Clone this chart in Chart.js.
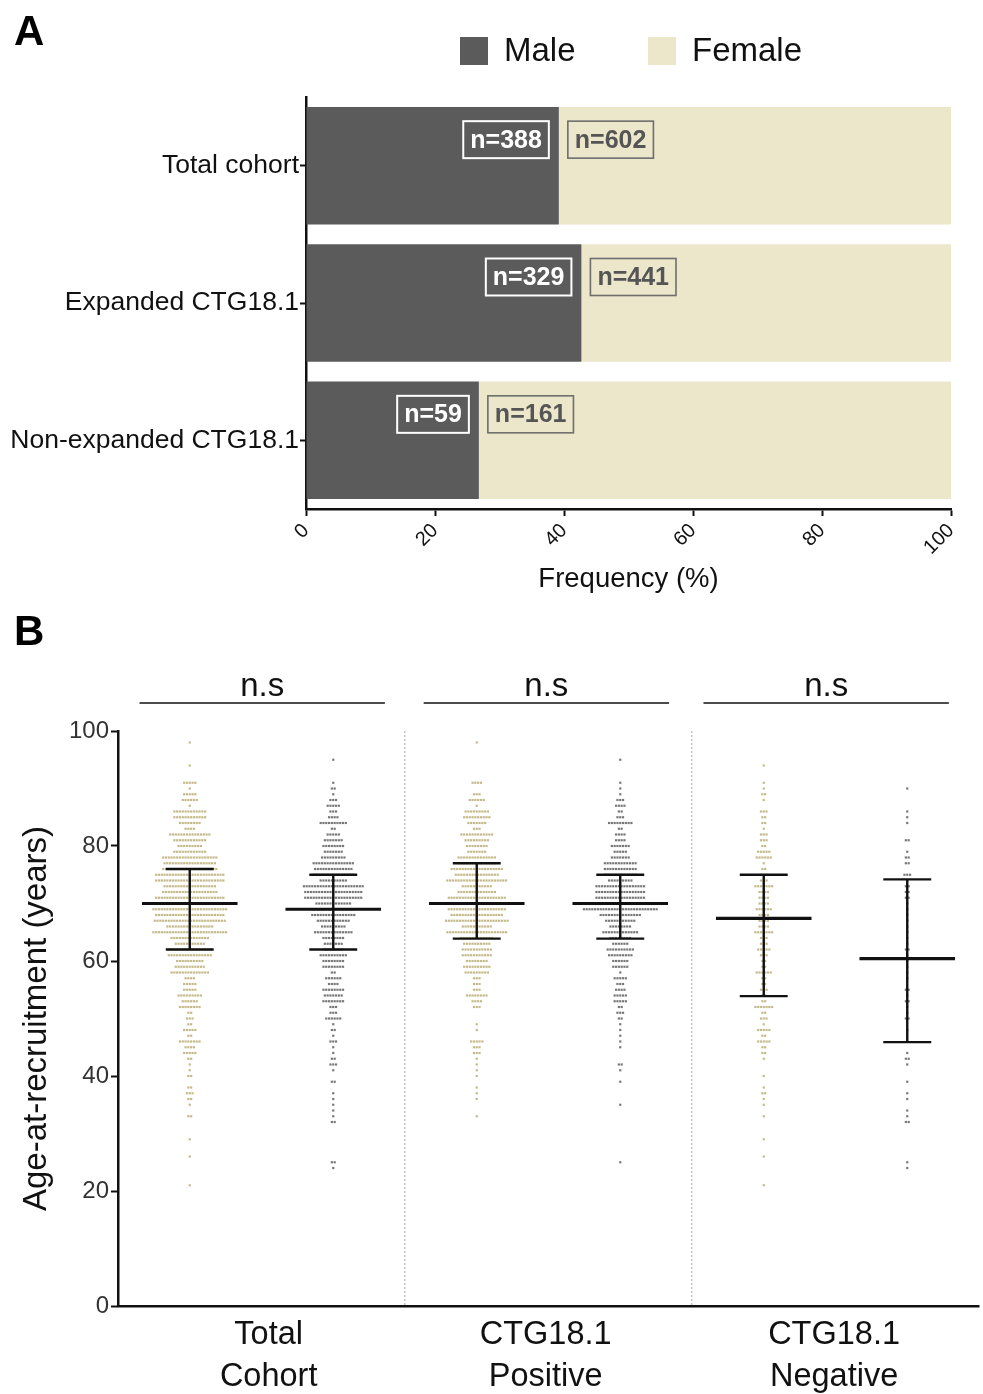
<!DOCTYPE html>
<html><head><meta charset="utf-8">
<script src="https://cdn.jsdelivr.net/npm/chart.js@4.4.1/dist/chart.umd.min.js"></script>
<style>
html,body{margin:0;padding:0;background:#fff;}
#wrapA{position:absolute;left:0;top:0;width:983px;height:600px;}
#wrapB{position:absolute;left:0;top:600px;width:983px;height:794px;}
canvas{display:block;}
</style></head><body>
<div id="wrapA"><canvas id="chartA" width="983" height="600"></canvas></div>
<div id="wrapB"><canvas id="chartB" width="983" height="794"></canvas></div>
<script>
// ---------------- DATA: panel A ----------------
const cohortLabels = ['Total cohort', 'Expanded CTG18.1', 'Non-expanded CTG18.1'];
const malePct   = [39.2, 42.7, 26.8];
const femalePct = [60.8, 57.3, 73.2];
const maleN   = [388, 329, 59];
const femaleN = [602, 441, 161];
const seriesNames = ['Male', 'Female'];
const freqTicks = [0, 20, 40, 60, 80, 100];

// ---------------- DATA: panel B (age rows and number of dots per row) ----------------
const groupLabels = [['Total', 'Cohort'], ['CTG18.1', 'Positive'], ['CTG18.1', 'Negative']];
const sigLabels = ['n.s', 'n.s', 'n.s'];
const ageTicks = [0, 20, 40, 60, 80, 100];

const totalFemaleAges   = [98,94,91,90,89,88,87,86,85,84,83,82,81,80,79,78,77,76,75,74,73,72,71,70,69,68,67,66,65,64,63,62,61,60,59,58,57,56,55,54,53,52,51,50,49,48,47,46,45,44,43,42,41,40,38,37,36,35,33,29,26,21];
const totalFemaleCounts = [1,1,5,1,5,6,1,12,12,8,4,15,12,9,12,20,19,20,25,25,19,20,25,24,27,25,26,17,27,14,11,16,16,10,11,14,4,5,5,9,6,8,2,3,2,5,2,8,4,5,2,1,1,2,2,3,2,1,2,1,1,1];

const totalMaleAges   = [95,91,90,89,88,87,86,85,84,83,82,81,80,79,78,77,76,75,74,73,72,71,70,69,68,67,66,65,64,63,62,61,60,59,58,57,56,55,54,53,52,51,50,49,48,47,46,45,44,43,42,41,39,37,36,35,34,33,32,25,24];
const totalMaleCounts = [1,1,2,1,3,5,3,4,10,2,5,7,8,7,9,15,14,15,10,22,21,21,13,16,16,12,9,14,8,7,7,10,8,8,2,6,4,8,7,8,3,3,6,1,2,1,3,1,1,2,3,1,2,1,1,1,1,1,2,2,1];

const posFemaleAges   = [98,91,89,88,87,86,85,84,83,82,81,80,79,78,77,76,75,74,73,72,71,70,69,68,67,66,65,64,63,62,61,60,59,58,57,56,55,54,53,52,49,48,46,45,44,43,42,41,40,38,37,36,33];
const posFemaleCounts = [1,4,3,6,1,9,10,7,3,12,9,8,7,14,14,19,16,22,11,14,21,18,21,19,23,11,22,12,10,11,11,8,10,9,3,3,3,8,4,3,1,1,5,3,3,1,1,1,1,1,1,1,1];

const posMaleAges   = [95,91,90,89,88,87,86,85,84,83,82,81,80,79,78,77,76,75,74,73,72,71,70,69,68,67,66,65,64,63,62,61,60,59,58,57,56,55,54,53,52,51,50,49,48,47,46,45,42,41,39,35,25];
const posMaleCounts = [1,1,1,1,3,4,2,3,9,2,4,4,7,5,7,12,12,12,9,18,18,18,16,27,15,11,8,13,8,6,10,9,6,6,1,5,3,4,5,5,2,3,2,1,1,1,1,1,2,1,1,1,1];

const negFemaleAges   = [94,91,90,89,88,86,85,84,83,82,81,80,79,78,77,76,75,74,73,72,71,70,69,68,67,66,65,64,63,62,61,60,59,58,57,56,55,54,53,52,51,50,49,48,47,46,45,44,43,40,38,37,36,35,33,29,26,21];
const negFemaleCounts = [1,1,1,2,1,3,2,2,1,3,3,2,5,6,1,2,3,3,7,4,4,4,6,4,4,4,7,3,3,5,3,2,2,6,2,2,3,2,2,7,2,3,1,5,2,5,2,2,1,1,1,2,1,1,1,1,1,1];

const negMaleAges   = [90,86,85,84,81,79,78,77,75,74,73,72,71,70,69,68,67,66,65,64,63,62,61,60,59,58,57,55,54,53,52,51,50,48,44,43,42,39,37,36,34,33,32,25,24];
const negMaleCounts = [1,1,1,1,2,1,2,2,3,1,2,2,2,1,1,1,1,1,1,1,1,2,1,1,1,1,1,2,1,2,1,1,2,1,1,2,1,1,1,1,1,1,2,1,1];

// mean and SD (order: total F, total M, pos F, pos M, neg F, neg M)
const meanAge = [70.0, 69.0, 70.0, 70.0, 67.4, 60.4];
const sdHigh  = [76.0, 75.0, 77.0, 75.0, 75.0, 74.2];
const sdLow   = [62.0, 62.0, 63.9, 63.9, 53.9, 45.9];

// ---------------- STYLE / LAYOUT ----------------
const FONT = "'Liberation Sans', Arial, Helvetica, sans-serif";
const MALE_BAR = '#5b5b5b', FEMALE_BAR = '#ece6cb';
const FEMALE_DOT = '#c4b98a', MALE_DOT = '#777777';
const groupCenters = [0.5, 1.5, 2.5, 3.5, 4.5, 5.5];
const labelPositions = [1.05, 2.98, 4.99];
const sigSpans = [[0.15, 1.86], [2.13, 3.84], [4.08, 5.79]];
const PITCH = 0.0195;     // horizontal dot spacing in x units
const MEAN_HALF = 0.333, CAP_HALF = 0.167;

function panelLetter(letter) {
  return {
    id: 'letter' + letter,
    afterDraw(chart) {
      const ctx = chart.ctx;
      ctx.save();
      ctx.font = 'bold 42px ' + FONT;
      ctx.fillStyle = '#000';
      ctx.textBaseline = 'alphabetic';
      ctx.textAlign = 'left';
      ctx.fillText(letter, 14, 45);
      ctx.restore();
    }
  };
}

// ---------------- PANEL A ----------------
const barLabelPlugin = {
  id: 'barLabels',
  afterDatasetsDraw(chart) {
    const {ctx, scales: {x, y}} = chart;
    ctx.save();
    ctx.font = 'bold 25px ' + FONT;
    ctx.textBaseline = 'middle';
    ctx.textAlign = 'center';
    const h = 37;
    function box(text, edge, yc, side, txtColor, strokeColor, lw) {
      const w = ctx.measureText(text).width + 14;
      const left = side === 'right' ? edge - w : edge;
      ctx.lineWidth = lw;
      ctx.strokeStyle = strokeColor;
      ctx.strokeRect(left, yc - h / 2, w, h);
      ctx.fillStyle = txtColor;
      ctx.fillText(text, left + w / 2, yc + 1);
    }
    cohortLabels.forEach((c, i) => {
      const yc = y.getPixelForValue(i) - 26;
      const xb = x.getPixelForValue(malePct[i]);
      box('n=' + maleN[i], xb - 10, yc, 'right', '#ffffff', '#ffffff', 2);
      box('n=' + femaleN[i], xb + 9, yc, 'left', '#555555', '#6e6e6e', 1.6);
    });
    ctx.restore();
  }
};

const legendPlugin = {
  id: 'customLegend',
  afterDraw(chart) {
    const ctx = chart.ctx;
    const items = chart.data.datasets.map(d => ({text: d.label, color: d.backgroundColor}));
    const starts = [460, 648];
    ctx.save();
    ctx.font = '33px ' + FONT;
    ctx.textBaseline = 'middle';
    ctx.textAlign = 'left';
    items.forEach((it, i) => {
      ctx.fillStyle = it.color;
      ctx.fillRect(starts[i], 37, 28, 28);
      ctx.fillStyle = '#111';
      ctx.fillText(it.text, starts[i] + 44, 52);
    });
    ctx.restore();
  }
};

new Chart(document.getElementById('chartA'), {
  type: 'bar',
  data: {
    labels: cohortLabels,
    datasets: [
      {label: seriesNames[0], data: malePct, backgroundColor: MALE_BAR, borderWidth: 0},
      {label: seriesNames[1], data: femalePct, backgroundColor: FEMALE_BAR, borderWidth: 0}
    ]
  },
  options: {
    indexAxis: 'y',
    responsive: false,
    animation: false,
    devicePixelRatio: 1,
    barPercentage: 0.855,
    categoryPercentage: 1,
    layout: {padding: {left: 0, right: 32, top: 97, bottom: 0}},
    scales: {
      x: {
        stacked: true, min: 0, max: 100,
        afterBuildTicks(s) { s.ticks = freqTicks.map(v => ({value: v})); },
        ticks: {minRotation: 45, maxRotation: 45, font: {family: FONT, size: 20}, color: '#111', padding: 3},
        grid: {drawOnChartArea: false, drawTicks: true, tickLength: 7, tickColor: '#111', tickWidth: 2},
        border: {display: true, color: '#111', width: 2.5},
        title: {display: true, text: 'Frequency (%)', font: {family: FONT, size: 27.5}, color: '#111'},
        afterFit(s) { s.height = 91; }
      },
      y: {
        stacked: true,
        ticks: {font: {family: FONT, size: 26.5}, color: '#111', padding: 1},
        grid: {offset: false, drawOnChartArea: false, drawTicks: true, tickLength: 6, tickColor: '#111', tickWidth: 2},
        border: {display: true, color: '#111', width: 2.5},
        afterFit(s) { s.width = 306; }
      }
    },
    plugins: {legend: {display: false}, tooltip: {enabled: false}}
  },
  plugins: [barLabelPlugin, legendPlugin, panelLetter('A')]
});

// ---------------- PANEL B ----------------
function swarm(ages, counts, center) {
  const pts = [];
  ages.forEach((a, k) => {
    const n = counts[k];
    for (let i = 0; i < n; i++) pts.push({x: center + (i - (n - 1) / 2) * PITCH, y: a});
  });
  return pts;
}
const groupsAges   = [totalFemaleAges, totalMaleAges, posFemaleAges, posMaleAges, negFemaleAges, negMaleAges];
const groupsCounts = [totalFemaleCounts, totalMaleCounts, posFemaleCounts, posMaleCounts, negFemaleCounts, negMaleCounts];

const meanPts = [], barPts = [];
groupCenters.forEach((c, g) => {
  meanPts.push({x: c - MEAN_HALF, y: meanAge[g]}, {x: c + MEAN_HALF, y: meanAge[g]}, {x: c, y: null});
  barPts.push({x: c - CAP_HALF, y: sdHigh[g]}, {x: c + CAP_HALF, y: sdHigh[g]}, {x: c, y: null},
              {x: c - CAP_HALF, y: sdLow[g]}, {x: c + CAP_HALF, y: sdLow[g]}, {x: c, y: null},
              {x: c, y: sdLow[g]}, {x: c, y: sdHigh[g]}, {x: c, y: null});
});

const datasetsB = [
  {label: 'mean', data: meanPts, showLine: true, spanGaps: false, borderColor: '#111', borderWidth: 3.2, pointRadius: 0, order: 0},
  {label: 'sd', data: barPts, showLine: true, spanGaps: false, borderColor: '#111', borderWidth: 2.4, pointRadius: 0, order: 0}
];
groupCenters.forEach((c, g) => {
  const col = g % 2 === 0 ? FEMALE_DOT : MALE_DOT;
  datasetsB.push({
    label: 'g' + g, data: swarm(groupsAges[g], groupsCounts[g], c),
    pointStyle: 'rect', pointRadius: 1.55, pointBorderWidth: 0,
    pointBackgroundColor: col, borderColor: col, backgroundColor: col, order: 1
  });
});

const sigPlugin = {
  id: 'sig',
  afterDraw(chart) {
    const {ctx, scales: {x}, chartArea} = chart;
    ctx.save();
    ctx.strokeStyle = '#111';
    ctx.lineWidth = 1.5;
    ctx.fillStyle = '#111';
    ctx.font = '33px ' + FONT;
    ctx.textAlign = 'center';
    ctx.textBaseline = 'alphabetic';
    sigSpans.forEach((sp, i) => {
      const x1 = x.getPixelForValue(sp[0]), x2 = x.getPixelForValue(sp[1]);
      const yl = chartArea.top - 28;
      ctx.beginPath(); ctx.moveTo(x1, yl); ctx.lineTo(x2, yl); ctx.stroke();
      ctx.fillText(sigLabels[i], (x1 + x2) / 2, yl - 7);
    });
    ctx.restore();
  }
};

new Chart(document.getElementById('chartB'), {
  type: 'scatter',
  data: {datasets: datasetsB},
  options: {
    responsive: false,
    animation: false,
    devicePixelRatio: 1,
    layout: {padding: {left: 13, right: 0, top: 131, bottom: 0}},
    scales: {
      x: {
        type: 'linear', min: 0, max: 6,
        afterBuildTicks(s) {
          s.ticks = [{value: 0}, {value: labelPositions[0]}, {value: 2}, {value: labelPositions[1]}, {value: 4}, {value: labelPositions[2]}, {value: 6}];
        },
        ticks: {
          autoSkip: false, maxRotation: 0, minRotation: 0,
          font: {family: FONT, size: 32.5, lineHeight: 1.3}, color: '#111', padding: 0,
          callback(v) { const k = labelPositions.indexOf(v); return k >= 0 ? groupLabels[k] : ''; }
        },
        grid: {
          drawTicks: true, tickLength: 8, tickColor: 'rgba(0,0,0,0)', drawOnChartArea: true, lineWidth: 1.5,
          color(ctx) { const v = ctx.tick && ctx.tick.value; return (v === 2 || v === 4) ? '#c4c4c4' : 'rgba(0,0,0,0)'; }
        },
        border: {display: true, color: '#111', width: 2.5, dash: [2, 2]},
        afterFit(s) { s.height = 88; }
      },
      y: {
        min: 0, max: 100,
        afterBuildTicks(s) { s.ticks = ageTicks.map(v => ({value: v})); },
        ticks: {font: {family: FONT, size: 24}, color: '#333', padding: 2},
        grid: {drawOnChartArea: false, drawTicks: true, tickLength: 7, tickColor: '#111', tickWidth: 2},
        border: {display: true, color: '#111', width: 2.5},
        title: {display: true, text: 'Age-at-recruitment (years)', font: {family: FONT, size: 33}, color: '#111'},
        afterFit(s) { s.width = 105; }
      }
    },
    plugins: {legend: {display: false}, tooltip: {enabled: false}}
  },
  plugins: [sigPlugin, panelLetter('B')]
});
</script>
</body></html>
